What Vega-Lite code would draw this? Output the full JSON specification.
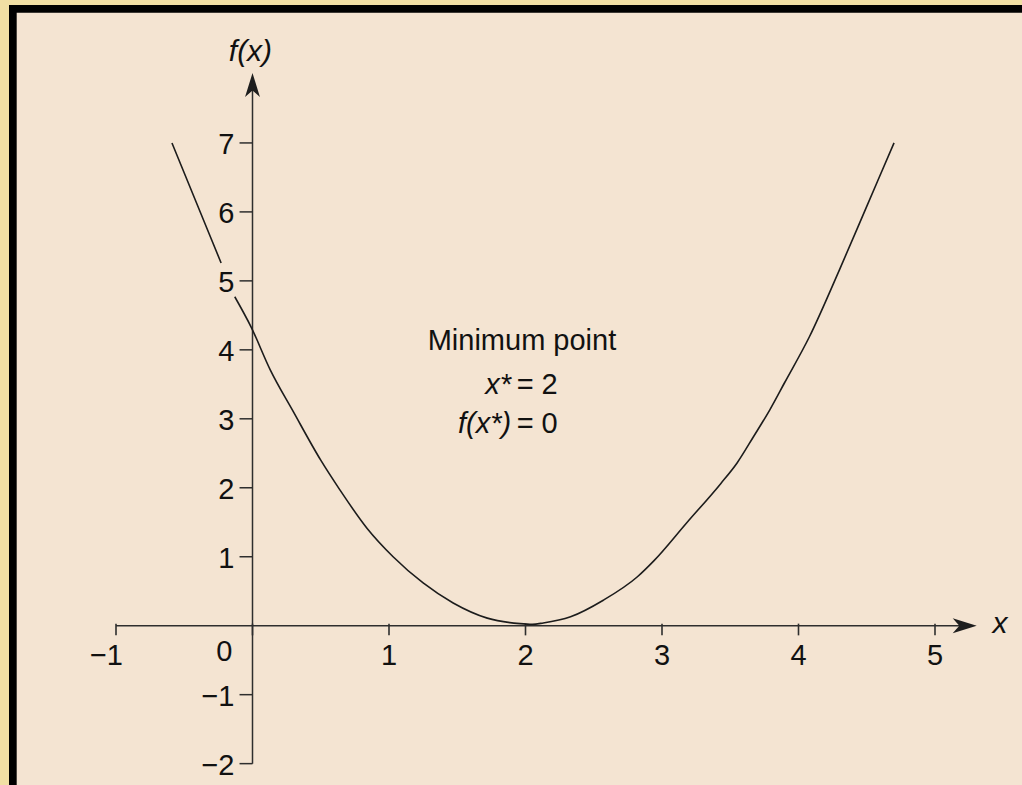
{
  "$schema": "https://vega.github.io/schema/vega-lite/v6.json",
  "width": 1013,
  "height": 780,
  "autosize": {"type": "none"},
  "padding": {"left": 9, "top": 5, "right": 0, "bottom": 0},
  "background": "#f1dfa4",
  "data": {"values": [{}]},
  "config": {
    "view": {"stroke": null, "fill": "#000000"},
    "axis": {"disable": true},
    "text": {"font": "Liberation Sans", "fontSize": 29, "color": "#111111"}
  },
  "layer": [
    {
      "description": "beige drawing panel inside the black frame",
      "mark": {"type": "rect", "color": "#f4e4d2"},
      "encoding": {
        "x": {"datum": -1.7275, "type": "quantitative", "scale": {"domain": [-1.7839, 5.6374], "nice": false, "zero": false}, "axis": null},
        "x2": {"datum": 5.6374},
        "y": {"datum": 8.888, "type": "quantitative", "scale": {"domain": [-2.3097, 9.0], "nice": false, "zero": false}, "axis": null},
        "y2": {"datum": -2.3097}
      }
    },
    {
      "description": "x axis line",
      "mark": {"type": "rule", "color": "#2e2e2e", "strokeWidth": 1.5},
      "encoding": {
        "x": {"datum": -1, "type": "quantitative", "axis": null},
        "x2": {"datum": 5.2},
        "y": {"datum": 0, "type": "quantitative", "axis": null}
      }
    },
    {
      "description": "y axis line",
      "mark": {"type": "rule", "color": "#2e2e2e", "strokeWidth": 1.5},
      "encoding": {
        "x": {"datum": 0, "type": "quantitative", "axis": null},
        "y": {"datum": -2, "type": "quantitative", "axis": null},
        "y2": {"datum": 7.8}
      }
    },
    {
      "description": "x ticks",
      "data": {"values": [{"v": -1}, {"v": 0}, {"v": 1}, {"v": 2}, {"v": 3}, {"v": 4}, {"v": 5}]},
      "mark": {"type": "rule", "color": "#2e2e2e", "strokeWidth": 1.6},
      "encoding": {
        "x": {"field": "v", "type": "quantitative", "axis": null},
        "y": {"datum": 0.03, "type": "quantitative", "axis": null},
        "y2": {"datum": -0.14}
      }
    },
    {
      "description": "y ticks",
      "data": {"values": [{"v": -2}, {"v": -1}, {"v": 1}, {"v": 2}, {"v": 3}, {"v": 4}, {"v": 5}, {"v": 6}, {"v": 7}]},
      "mark": {"type": "rule", "color": "#2e2e2e", "strokeWidth": 1.5},
      "encoding": {
        "x": {"datum": -0.095, "type": "quantitative", "axis": null},
        "x2": {"datum": 0},
        "y": {"field": "v", "type": "quantitative", "axis": null}
      }
    },
    {
      "description": "arrowhead on the x axis",
      "mark": {"type": "point", "shape": "M1,0 L-1,-0.62 L-0.45,0 L-1,0.62 Z", "filled": true, "color": "#1e1e1e", "size": 576, "opacity": 1, "angle": 0},
      "encoding": {
        "x": {"datum": 5.2176, "type": "quantitative", "axis": null},
        "y": {"datum": 0, "type": "quantitative", "axis": null}
      }
    },
    {
      "description": "arrowhead on the y axis",
      "mark": {"type": "point", "shape": "M1,0 L-1,-0.62 L-0.45,0 L-1,0.62 Z", "filled": true, "color": "#1e1e1e", "size": 576, "opacity": 1, "angle": -90},
      "encoding": {
        "x": {"datum": 0, "type": "quantitative", "axis": null},
        "y": {"datum": 7.84, "type": "quantitative", "axis": null}
      }
    },
    {
      "description": "the function curve, broken where it passes the label 5",
      "data": {"values": [
        {"x": -0.59, "y": 7.0, "seg": 1},
        {"x": -0.41, "y": 6.13, "seg": 1},
        {"x": -0.23, "y": 5.26, "seg": 1},
        {"x": -0.13, "y": 4.77, "seg": 2},
        {"x": -0.01, "y": 4.33, "seg": 2},
        {"x": 0.13, "y": 3.71, "seg": 2},
        {"x": 0.30, "y": 3.10, "seg": 2},
        {"x": 0.50, "y": 2.40, "seg": 2},
        {"x": 0.64, "y": 1.97, "seg": 2},
        {"x": 0.84, "y": 1.41, "seg": 2},
        {"x": 1.03, "y": 1.00, "seg": 2},
        {"x": 1.25, "y": 0.62, "seg": 2},
        {"x": 1.47, "y": 0.33, "seg": 2},
        {"x": 1.72, "y": 0.11, "seg": 2},
        {"x": 1.96, "y": 0.03, "seg": 2},
        {"x": 2.05, "y": 0.02, "seg": 2},
        {"x": 2.13, "y": 0.04, "seg": 2},
        {"x": 2.33, "y": 0.13, "seg": 2},
        {"x": 2.57, "y": 0.37, "seg": 2},
        {"x": 2.82, "y": 0.71, "seg": 2},
        {"x": 2.94, "y": 0.94, "seg": 2},
        {"x": 3.18, "y": 1.49, "seg": 2},
        {"x": 3.43, "y": 2.06, "seg": 2},
        {"x": 3.55, "y": 2.36, "seg": 2},
        {"x": 3.67, "y": 2.74, "seg": 2},
        {"x": 3.79, "y": 3.13, "seg": 2},
        {"x": 3.90, "y": 3.53, "seg": 2},
        {"x": 4.08, "y": 4.19, "seg": 2},
        {"x": 4.30, "y": 5.16, "seg": 2},
        {"x": 4.50, "y": 6.08, "seg": 2},
        {"x": 4.70, "y": 7.0, "seg": 2}
      ]},
      "mark": {"type": "line", "color": "#1c1c1c", "strokeWidth": 1.6, "interpolate": "monotone"},
      "encoding": {
        "x": {"field": "x", "type": "quantitative", "axis": null},
        "y": {"field": "y", "type": "quantitative", "axis": null},
        "detail": {"field": "seg"}
      }
    },
    {
      "description": "y tick labels",
      "data": {"values": [
        {"v": 7, "t": "7"}, {"v": 6, "t": "6"}, {"v": 5, "t": "5"}, {"v": 4, "t": "4"},
        {"v": 3, "t": "3"}, {"v": 2, "t": "2"}, {"v": 1, "t": "1"},
        {"v": -1, "t": "−1"}, {"v": -2, "t": "−2"}
      ]},
      "mark": {"type": "text", "align": "right", "baseline": "middle", "dx": -18, "dy": 2},
      "encoding": {
        "x": {"datum": 0, "type": "quantitative", "axis": null},
        "y": {"field": "v", "type": "quantitative", "axis": null},
        "text": {"field": "t"}
      }
    },
    {
      "description": "x tick labels",
      "data": {"values": [{"v": 1, "t": "1"}, {"v": 2, "t": "2"}, {"v": 3, "t": "3"}, {"v": 4, "t": "4"}, {"v": 5, "t": "5"}]},
      "mark": {"type": "text", "align": "center", "baseline": "middle", "dy": 30},
      "encoding": {
        "x": {"field": "v", "type": "quantitative", "axis": null},
        "y": {"datum": 0, "type": "quantitative", "axis": null},
        "text": {"field": "t"}
      }
    },
    {
      "description": "x tick label at -1",
      "data": {"values": [{"v": -1, "t": "−1"}]},
      "mark": {"type": "text", "align": "right", "baseline": "middle", "dx": 7, "dy": 30},
      "encoding": {
        "x": {"field": "v", "type": "quantitative", "axis": null},
        "y": {"datum": 0, "type": "quantitative", "axis": null},
        "text": {"field": "t"}
      }
    },
    {
      "description": "origin label",
      "data": {"values": [{"v": 0, "t": "0"}]},
      "mark": {"type": "text", "align": "right", "baseline": "middle", "dx": -20, "dy": 26},
      "encoding": {
        "x": {"field": "v", "type": "quantitative", "axis": null},
        "y": {"field": "v", "type": "quantitative", "axis": null},
        "text": {"field": "t"}
      }
    },
    {
      "description": "axis titles",
      "data": {"values": [
        {"x": -0.015, "y": 8.19, "t": "f(x)"},
        {"x": 5.476, "y": -0.11, "t": "x"}
      ]},
      "mark": {"type": "text", "align": "center", "baseline": "alphabetic", "fontStyle": "italic", "fontSize": 30},
      "encoding": {
        "x": {"field": "x", "type": "quantitative", "axis": null},
        "y": {"field": "y", "type": "quantitative", "axis": null},
        "text": {"field": "t"}
      }
    },
    {
      "description": "annotation heading",
      "data": {"values": [{"x": 1.974, "y": 4.0, "t": "Minimum point"}]},
      "mark": {"type": "text", "align": "center", "baseline": "alphabetic"},
      "encoding": {
        "x": {"field": "x", "type": "quantitative", "axis": null},
        "y": {"field": "y", "type": "quantitative", "axis": null},
        "text": {"field": "t"}
      }
    },
    {
      "description": "annotation symbols (italic, left of the equals signs)",
      "data": {"values": [
        {"x": 1.895, "y": 3.36, "t": "x*"},
        {"x": 1.895, "y": 2.794, "t": "f(x*)"}
      ]},
      "mark": {"type": "text", "align": "right", "baseline": "alphabetic", "fontStyle": "italic"},
      "encoding": {
        "x": {"field": "x", "type": "quantitative", "axis": null},
        "y": {"field": "y", "type": "quantitative", "axis": null},
        "text": {"field": "t"}
      }
    },
    {
      "description": "annotation values",
      "data": {"values": [
        {"x": 1.935, "y": 3.36, "t": "= 2"},
        {"x": 1.935, "y": 2.794, "t": "= 0"}
      ]},
      "mark": {"type": "text", "align": "left", "baseline": "alphabetic"},
      "encoding": {
        "x": {"field": "x", "type": "quantitative", "axis": null},
        "y": {"field": "y", "type": "quantitative", "axis": null},
        "text": {"field": "t"}
      }
    }
  ]
}
